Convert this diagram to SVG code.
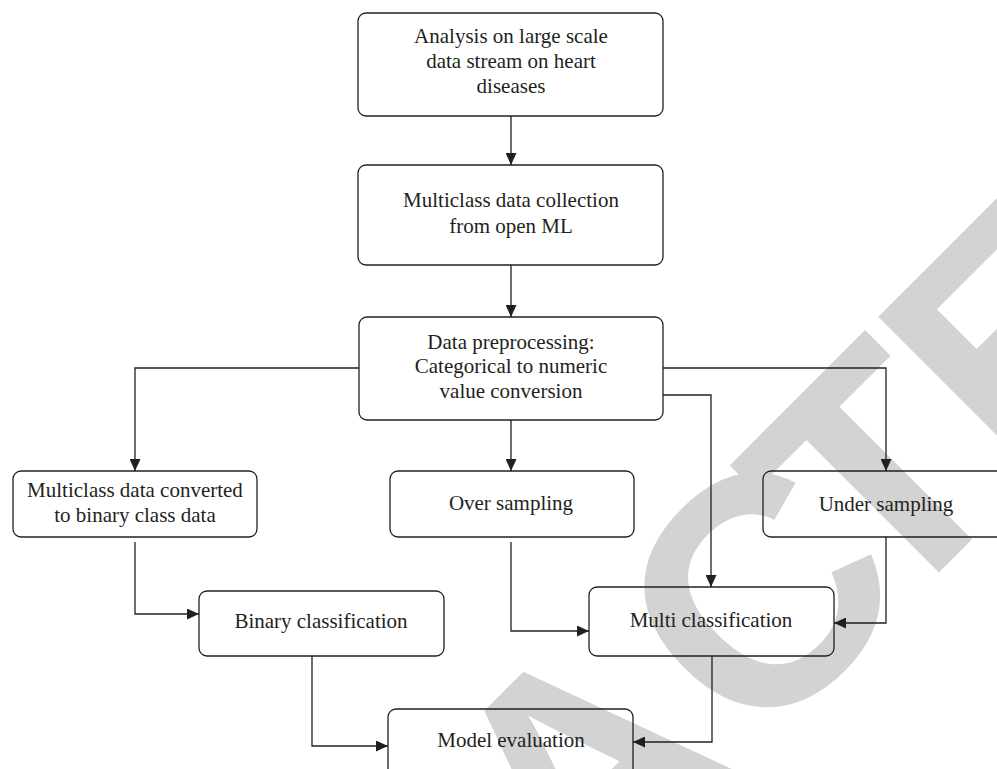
<svg xmlns="http://www.w3.org/2000/svg" width="997" height="769" viewBox="0 0 997 769">
  <defs>
    <style>
      .box { fill: none; stroke: #231f20; stroke-width: 1.3; }
      .lbl { font-family: "Liberation Serif", "Times New Roman", serif; font-size: 21px; fill: #231f20; text-anchor: middle; }
      .wire { fill: none; stroke: #231f20; stroke-width: 1.3; }
      .stamp { font-family: "Liberation Sans", Arial, sans-serif; font-weight: bold; font-size: 325px; fill: #d3d3d3; }
    </style>
    <marker id="arrow" markerUnits="userSpaceOnUse" markerWidth="12" markerHeight="11" refX="12" refY="5.5" orient="auto">
      <path d="M0,0 L12,5.5 L0,11 Z" fill="#231f20"/>
    </marker>
  </defs>

  <rect width="997" height="769" fill="#ffffff"/>

  <!-- diagonal stamp behind the flowchart -->
  <g id="stamp" transform="translate(753,590) rotate(-45)">
    <text class="stamp" y="119" x="-1251 -1016 -799 -600 -365 -117 68 260 477">RETRACTED</text>
  </g>

  <!-- connectors -->
  <g id="connectors" class="wire" marker-end="url(#arrow)">
    <path d="M511,116 V165"/>
    <path d="M511,265 V317"/>
    <path d="M359,368 H135 V471"/>
    <path d="M663,368 H886 V471"/>
    <path d="M511,420 V471"/>
    <path d="M663,395 H711 V587"/>
    <path d="M135,542 V614 H199"/>
    <path d="M511,542 V631 H589"/>
    <path d="M886,537 V623 H834"/>
    <path d="M312,656 V746 H388"/>
    <path d="M712,656 V742 H633"/>
  </g>

  <g id="analysis">
    <rect class="box" x="358" y="13" width="305" height="103" rx="8"/>
    <text class="lbl" x="511" y="43">Analysis on large scale</text>
    <text class="lbl" x="511" y="68">data stream on heart</text>
    <text class="lbl" x="511" y="93">diseases</text>
  </g>

  <g id="collection">
    <rect class="box" x="358" y="165" width="305" height="100" rx="8"/>
    <text class="lbl" x="511" y="207">Multiclass data collection</text>
    <text class="lbl" x="511" y="233">from open ML</text>
  </g>

  <g id="preprocessing">
    <rect class="box" x="359" y="317" width="304" height="103" rx="8"/>
    <text class="lbl" x="511" y="349">Data preprocessing:</text>
    <text class="lbl" x="511" y="373">Categorical to numeric</text>
    <text class="lbl" x="511" y="398">value conversion</text>
  </g>

  <g id="to-binary">
    <rect class="box" x="13" y="471" width="244" height="66" rx="8"/>
    <text class="lbl" x="135" y="497">Multiclass data converted</text>
    <text class="lbl" x="135" y="522">to binary class data</text>
  </g>

  <g id="over-sampling">
    <rect class="box" x="390" y="471" width="244" height="66" rx="8"/>
    <text class="lbl" x="511" y="510">Over sampling</text>
  </g>

  <g id="under-sampling">
    <rect class="box" x="763" y="471" width="250" height="66" rx="8"/>
    <text class="lbl" x="886" y="511">Under sampling</text>
  </g>

  <g id="binary-classification">
    <rect class="box" x="199" y="591" width="245" height="65" rx="8"/>
    <text class="lbl" x="321" y="628">Binary classification</text>
  </g>

  <g id="multi-classification">
    <rect class="box" x="589" y="587" width="245" height="69" rx="8"/>
    <text class="lbl" x="711" y="627">Multi classification</text>
  </g>

  <g id="model-evaluation">
    <rect class="box" x="388" y="709" width="245" height="80" rx="8"/>
    <text class="lbl" x="511" y="747">Model evaluation</text>
  </g>
</svg>
